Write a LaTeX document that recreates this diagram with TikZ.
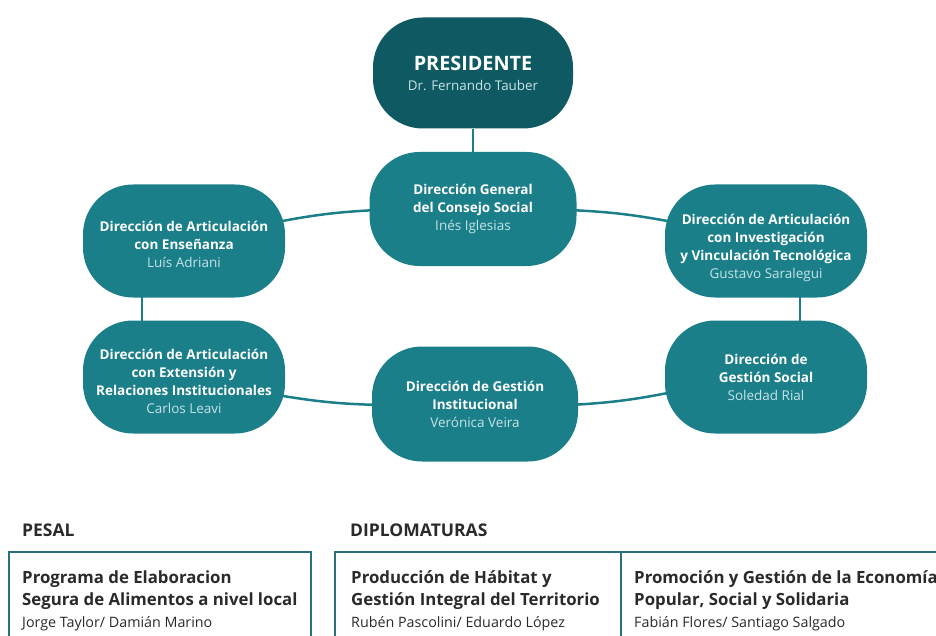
\documentclass[tikz,border=0pt]{standalone}
\usepackage{fontspec}
\setmainfont{Open Sans}
\usetikzlibrary{calc,backgrounds}
\definecolor{darkt}{HTML}{0F5962}
\definecolor{tealm}{HTML}{1A7F89}
\definecolor{subc}{HTML}{C4E3E6}
\definecolor{txt}{HTML}{2A2A2A}
\definecolor{boxl}{HTML}{2A7078}
\newcommand{\who}[1]{{\mdseries\color{subc}#1}}
\newcommand{\whob}[1]{{\fontsize{14.3}{22}\selectfont\mdseries #1}}
\newcommand{\lift}[1]{\rule{0pt}{#1}}
\begin{document}
\begin{tikzpicture}[x=1pt,y=-1pt,
  stad/.style={rectangle, rounded corners=50pt, fill=tealm, minimum width=202pt,
    minimum height=113pt, text=white, align=center, inner sep=0pt,
    font=\fontsize{13.5}{18}\selectfont\bfseries},
  link/.style={draw=tealm, line width=2.5pt},
  frame/.style={draw=boxl, line width=2.2pt, anchor=north west, inner sep=0pt},
  head/.style={anchor=west, text=txt, font=\fontsize{17.5}{20}\selectfont\bfseries, inner sep=0pt},
  body/.style={anchor=north west, text=txt, align=left, inner sep=0pt,
    font=\fontsize{16.8}{22}\selectfont\bfseries}]
\useasboundingbox (0,0) rectangle (936,636);

\node[stad, fill=darkt, minimum width=200pt, minimum height=111pt,
  font=\fontsize{19.8}{23}\selectfont\bfseries] (pres) at (473,73)
  {PRESIDENTE\\[-3pt]{\fontsize{13.4}{18}\selectfont\who{Dr. Fernando Tauber}}};
\node[stad, minimum width=207pt, minimum height=114pt] (dg) at (473,209)
  {Dirección General\\del Consejo Social\\\who{Inés Iglesias}};
\node[stad] (ens) at (184,241)
  {\lift{18pt}Dirección de Articulación\\con Enseñanza\\\who{Luís Adriani}};
\node[stad] (inv) at (766,241)
  {\lift{24pt}Dirección de Articulación\\con Investigación\\y Vinculación Tecnológica\\\who{Gustavo Saralegui}};
\node[stad] (ext) at (184,377)
  {\lift{20pt}Dirección de Articulación\\con Extensión y\\Relaciones Institucionales\\\who{Carlos Leavi}};
\node[stad] (gs) at (766,377)
  {Dirección de\\Gestión Social\\\who{Soledad Rial}};
\node[stad, minimum width=206pt, minimum height=115pt] (gi) at (475,404)
  {Dirección de Gestión\\Institucional\\\who{Verónica Veira}};

\begin{scope}[on background layer]
  \draw[link] (pres.south) -- (dg.north);
  \draw[link] ($(dg.west)+(8,1)$) to[bend right=4] ($(ens.east)+(-8,-19)$);
  \draw[link] ($(ens.south)+(-42,-5)$) -- ($(ext.north)+(-42,5)$);
  \draw[link] ($(ext.east)+(-8,18)$) to[bend right=4] ($(gi.west)+(8,1)$);
  \draw[link] ($(gi.east)+(-8,1)$) to[bend right=4] ($(gs.west)+(8,15)$);
  \draw[link] ($(gs.north)+(34,5)$) -- ($(inv.south)+(34,-5)$);
  \draw[link] ($(inv.west)+(8,-19)$) to[bend right=4] ($(dg.east)+(-8,1)$);
\end{scope}

\node[head] (hpesal) at (22,530) {PESAL};
\node[head] (hdip) at (350,530) {DIPLOMATURAS};
\node[frame, minimum width=302pt, minimum height=100pt] (bpesal) at (8,551) {};
\node[frame, minimum width=286pt, minimum height=100pt] (bdip1) at (334,551) {};
\node[frame, minimum width=330pt, minimum height=100pt] (bdip2) at (620,551) {};
\node[body] (tpesal) at (22,571) {Programa de Elaboracion\\Segura de Alimentos a nivel local\\\whob{Jorge Taylor/ Damián Marino}};
\node[body] (tdip1) at (351,570) {Producción de Hábitat y\\Gestión Integral del Territorio\\\whob{Rubén Pascolini/ Eduardo López}};
\node[body] (tdip2) at (634,570) {Promoción y Gestión de la Economía\\Popular, Social y Solidaria\\\whob{Fabián Flores/ Santiago Salgado}};
\end{tikzpicture}
\end{document}
